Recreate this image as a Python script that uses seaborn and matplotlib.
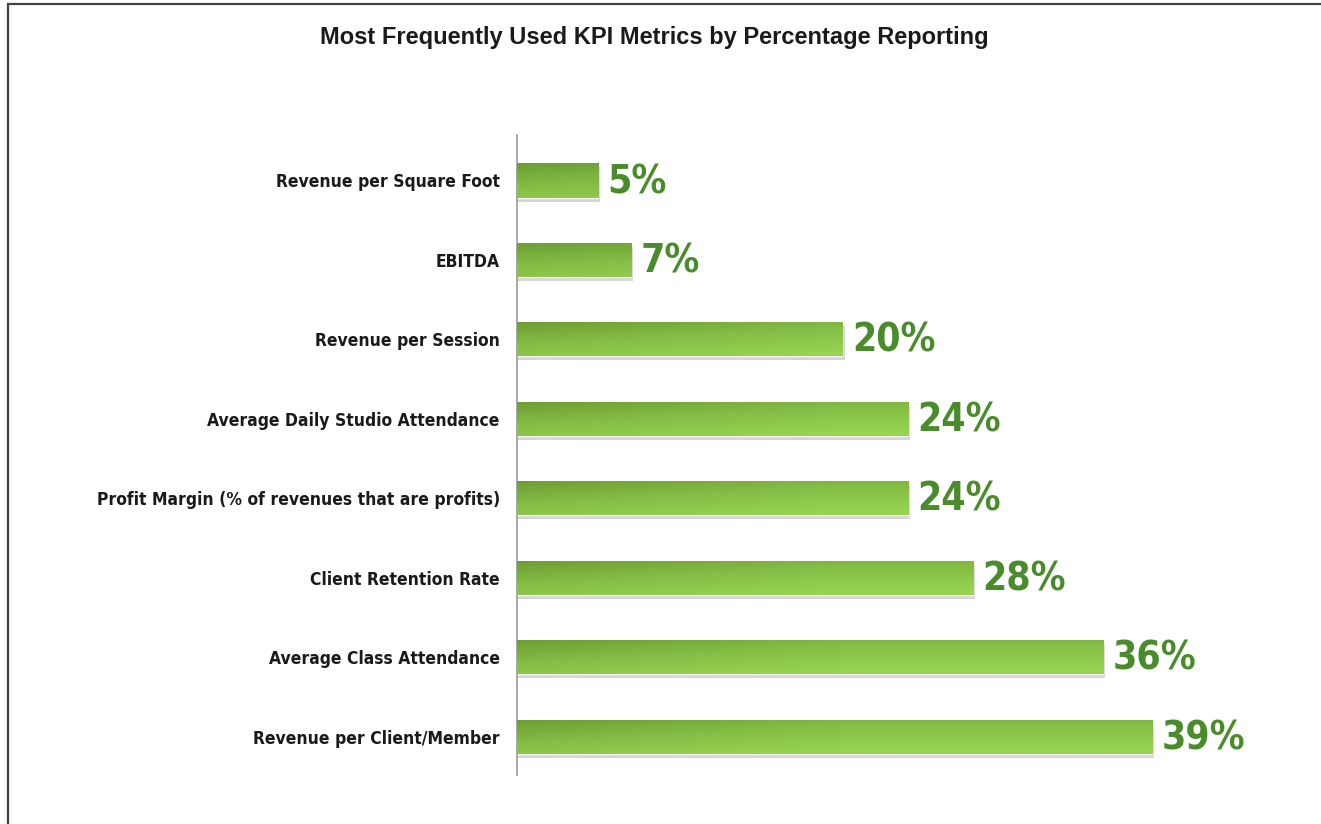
import numpy as np
import pandas as pd
import matplotlib
matplotlib.use("Agg")
import matplotlib.pyplot as plt
from matplotlib.patches import Rectangle
from matplotlib.colors import LinearSegmentedColormap
from matplotlib import font_manager
import seaborn as sns

categories = [
    "Revenue per Square Foot",
    "EBITDA",
    "Revenue per Session",
    "Average Daily Studio Attendance",
    "Profit Margin (% of revenues that are profits)",
    "Client Retention Rate",
    "Average Class Attendance",
    "Revenue per Client/Member",
]
values = [5, 7, 20, 24, 24, 28, 36, 39]
labels = ["5%", "7%", "20%", "24%", "24%", "28%", "36%", "39%"]
title = "Most Frequently Used KPI Metrics by Percentage Reporting"

sns.set_theme(style="white")
plt.rcParams["font.family"] = ["Liberation Sans", "DejaVu Sans"]

has_cond = any(f.name == "DejaVu Sans" and "Condensed" in f.fname
               for f in font_manager.fontManager.ttflist)
cond_family = ["DejaVu Sans"] if has_cond else ["Liberation Sans", "DejaVu Sans"]
cond_stretch = "condensed" if has_cond else "normal"

df = pd.DataFrame({"metric": categories, "pct": values})

fig = plt.figure(figsize=(13.21, 8.24), dpi=100)
ax = fig.add_axes([0.391, 0.0595, 0.592, 0.7765])

sns.barplot(data=df, x="pct", y="metric", orient="h", color="#8cc84b",
            width=0.43, ax=ax, saturation=1)

ax.set_xlim(0, 48)
ax.set_ylim(7.48, -0.57)

cmap = LinearSegmentedColormap.from_list("g", ["#6a9a30", "#84bd45", "#96d452"])
for p in list(ax.patches):
    x0, y0 = p.get_x(), p.get_y()
    w, h = p.get_width(), p.get_height()
    sh = Rectangle((x0, y0 + 0.05), w + 0.15, h, facecolor="#d6d6d6", edgecolor="none", zorder=1)
    ax.add_patch(sh)
    p.set_zorder(2)
    gx = np.linspace(0, 1, 200)[None, :]
    gy = np.linspace(0, 1, 40)[:, None]
    grad = np.clip(0.65 * gy + 0.35 * np.minimum(gx * w / 20.0, 1.0) + 0.05, 0, 1)
    im = ax.imshow(grad, cmap=cmap, vmin=0, vmax=1, aspect="auto",
                   extent=[x0, x0 + w, y0 + h, y0], origin="upper",
                   zorder=3, interpolation="bicubic")
    im.set_clip_path(p)

ax.set_xlim(0, 48)
ax.set_ylim(7.48, -0.57)

for i, (v, lab) in enumerate(zip(values, labels)):
    ax.text(v + 0.6, i + 0.02, lab, va="center", ha="left", color="#4a8c2c",
            fontsize=28, fontweight="bold", family=cond_family, fontstretch=cond_stretch,
            zorder=4)

ax.set_xlabel("")
ax.set_ylabel("")
ax.set_xticks([])
ax.tick_params(axis="y", length=0, pad=12)
for t in ax.get_yticklabels():
    t.set_fontfamily(cond_family)
    t.set_fontstretch(cond_stretch)
    t.set_fontweight("bold")
    t.set_fontsize(12.5)
    t.set_color("#1a1a1a")
for s in ["top", "right", "bottom"]:
    ax.spines[s].set_visible(False)
ax.spines["left"].set_color("#9a9a9a")
ax.spines["left"].set_linewidth(1.2)

fig.text(0.495, 0.955, title, ha="center", va="center", fontsize=17,
         fontweight="bold", color="#1a1a1a")

border = Rectangle((8 / 1321, -0.1), 1.2, 1.1 - 4 / 824, transform=fig.transFigure,
                   fill=False, edgecolor="#444444", linewidth=1.6)
fig.patches.append(border)

fig.savefig("out.png", dpi=100, facecolor="white")
